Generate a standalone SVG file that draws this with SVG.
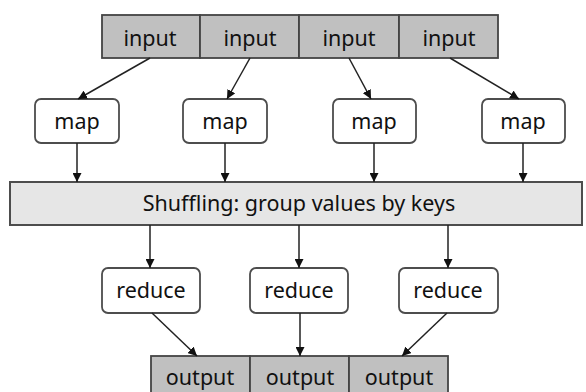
<svg xmlns="http://www.w3.org/2000/svg" width="586" height="392" viewBox="0 0 586 392">
  <style>
    .lbl { font-family: "Noto Sans", "Open Sans", sans-serif; font-size: 21.5px; fill: #111111; text-anchor: middle; }
    .cell { fill: #c0c0c0; stroke: #444444; stroke-width: 1.8; }
    .box { fill: #ffffff; stroke: #4d4d4d; stroke-width: 1.8; }
    .bar { fill: #e6e6e6; stroke: #4d4d4d; stroke-width: 2; }
    .edge { fill: none; stroke: #222222; stroke-width: 1.5; marker-end: url(#arrow); }
  </style>
  <defs>
    <marker id="arrow" viewBox="0 0 10 10" refX="10" refY="5" markerWidth="9" markerHeight="9" markerUnits="userSpaceOnUse" orient="auto">
      <path d="M0,0 L10,5 L0,10 z" fill="#111111"/>
    </marker>
  </defs>
  <rect width="586" height="392" fill="#ffffff"/>

  <!-- input splits -->
  <g id="inputs">
    <rect class="cell" x="102" y="15" width="98" height="43"/>
    <rect class="cell" x="200" y="15" width="99" height="43"/>
    <rect class="cell" x="299" y="15" width="100" height="43"/>
    <rect class="cell" x="399" y="15" width="99" height="43"/>
    <text class="lbl" x="150" y="46">input</text>
    <text class="lbl" x="250" y="46">input</text>
    <text class="lbl" x="349" y="46">input</text>
    <text class="lbl" x="449" y="46">input</text>
  </g>

  <!-- map tasks -->
  <g id="map1"><rect class="box" x="35" y="99" width="84" height="44" rx="6"/><text class="lbl" x="77" y="129">map</text></g>
  <g id="map2"><rect class="box" x="183" y="99" width="84" height="44" rx="6"/><text class="lbl" x="225" y="129">map</text></g>
  <g id="map3"><rect class="box" x="333" y="99" width="83" height="44" rx="6"/><text class="lbl" x="374" y="129">map</text></g>
  <g id="map4"><rect class="box" x="482" y="99" width="83" height="44" rx="6"/><text class="lbl" x="523" y="129">map</text></g>

  <!-- shuffle stage -->
  <g id="shuffle">
    <rect class="bar" x="10" y="182" width="572" height="43"/>
    <text class="lbl" x="299" y="211">Shuffling: group values by keys</text>
  </g>

  <!-- reduce tasks -->
  <g id="reduce1"><rect class="box" x="102" y="268" width="98" height="45" rx="6"/><text class="lbl" x="151" y="298">reduce</text></g>
  <g id="reduce2"><rect class="box" x="250" y="268" width="98" height="45" rx="6"/><text class="lbl" x="299" y="298">reduce</text></g>
  <g id="reduce3"><rect class="box" x="399" y="268" width="99" height="45" rx="6"/><text class="lbl" x="448" y="298">reduce</text></g>

  <!-- output partitions -->
  <g id="outputs">
    <rect class="cell" x="151" y="356" width="99" height="44"/>
    <rect class="cell" x="250" y="356" width="99" height="44"/>
    <rect class="cell" x="349" y="356" width="99" height="44"/>
    <text class="lbl" x="200" y="385">output</text>
    <text class="lbl" x="300" y="385">output</text>
    <text class="lbl" x="399" y="385">output</text>
  </g>

  <!-- connectors -->
  <g id="connectors">
    <line class="edge" x1="150" y1="58" x2="78" y2="99"/>
    <line class="edge" x1="250" y1="58" x2="227" y2="99"/>
    <line class="edge" x1="349" y1="58" x2="371" y2="99"/>
    <line class="edge" x1="450" y1="58" x2="519" y2="99"/>

    <line class="edge" x1="77" y1="143" x2="77" y2="182"/>
    <line class="edge" x1="225" y1="143" x2="225" y2="182"/>
    <line class="edge" x1="374" y1="143" x2="374" y2="182"/>
    <line class="edge" x1="523" y1="143" x2="523" y2="182"/>

    <line class="edge" x1="150" y1="225" x2="150" y2="268"/>
    <line class="edge" x1="299" y1="225" x2="299" y2="268"/>
    <line class="edge" x1="448" y1="225" x2="448" y2="268"/>

    <line class="edge" x1="152" y1="313" x2="197" y2="356"/>
    <line class="edge" x1="300" y1="313" x2="300" y2="356"/>
    <line class="edge" x1="447" y1="313" x2="402" y2="356"/>
  </g>
</svg>
